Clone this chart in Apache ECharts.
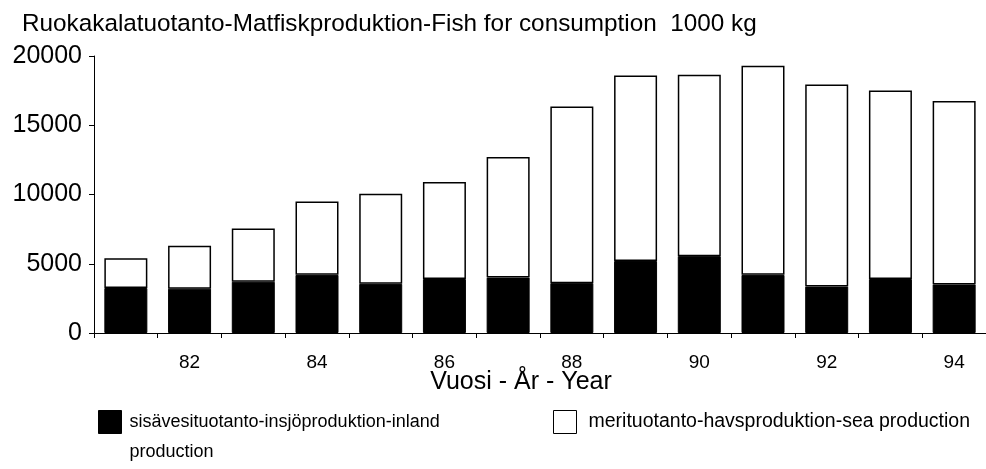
<!DOCTYPE html>
<html>
<head>
<meta charset="utf-8">
<script src="https://cdn.jsdelivr.net/npm/echarts@6/dist/echarts.min.js"></script>
<style>
  html, body { margin: 0; padding: 0; background: #fff; }
  #chart { width: 986px; height: 469px; }
</style>
</head>
<body>
<div id="chart"></div>
<script>
// Fish for consumption, 1000 kg, by year
const years = ['81', '82', '83', '84', '85', '86', '87', '88', '89', '90', '91', '92', '93', '94'];
const inland = [3250, 3200, 3700, 4200, 3550, 3900, 4000, 3600, 5200, 5550, 4200, 3350, 3900, 3500];
const sea = [2150, 3100, 3850, 5300, 6500, 7000, 8700, 12750, 13400, 13100, 15100, 14600, 13600, 13250];
const yTicks = { min: 0, max: 20000, interval: 5000 };

const titleText = 'Ruokakalatuotanto-Matfiskproduktion-Fish for consumption  1000 kg';
const inlandName = 'sisävesituotanto-insjöproduktion-inland production';
const seaName = 'merituotanto-havsproduktion-sea production';
const xName = 'Vuosi - År - Year';

const sans = '"Liberation Sans", Arial, Helvetica, sans-serif';

const chart = echarts.init(document.getElementById('chart'), null, { renderer: 'canvas' });

chart.setOption({
  backgroundColor: '#ffffff',
  animation: false,
  title: {
    text: titleText,
    left: 22,
    top: 12,
    padding: 0,
    textStyle: { fontFamily: sans, fontSize: 24.3, fontWeight: 'normal', color: '#000' }
  },
  legend: [
    {
      data: [inlandName],
      left: 98,
      top: 377,
      padding: 0,
      icon: 'rect',
      itemWidth: 23,
      itemHeight: 23,
      selectedMode: false,
      // a leading blank line keeps the first text line level with the swatch
      formatter: n => '\n' + n.replace('inland production', 'inland\nproduction'),
      itemStyle: { color: '#000', borderColor: '#000', borderWidth: 1 },
      textStyle: { fontFamily: sans, fontSize: 18, color: '#000', lineHeight: 30, padding: [0, 0, 0, 3] }
    },
    {
      data: [seaName],
      left: 553,
      top: 410,
      padding: 0,
      icon: 'rect',
      itemWidth: 23,
      itemHeight: 23,
      selectedMode: false,
      itemStyle: { color: '#fff', borderColor: '#000', borderWidth: 1 },
      textStyle: { fontFamily: sans, fontSize: 19.5, color: '#000', padding: [0, 0, 0, 7] }
    }
  ],
  grid: { left: 94, top: 56, width: 892, height: 277, containLabel: false },
  xAxis: {
    type: 'category',
    data: years,
    name: xName,
    nameLocation: 'middle',
    nameGap: 37,
    nameMoveOverlap: false,
    nameTextStyle: { fontFamily: sans, fontSize: 25, color: '#000', padding: [0, 38, 0, 0] },
    axisLine: { lineStyle: { color: '#000', width: 1 } },
    axisTick: { show: true, length: 5, interval: 0, lineStyle: { color: '#000' } },
    axisLabel: {
      interval: i => i % 2 === 1,
      margin: 20,
      fontFamily: sans,
      fontSize: 19,
      color: '#000'
    }
  },
  yAxis: {
    type: 'value',
    min: yTicks.min,
    max: yTicks.max,
    interval: yTicks.interval,
    axisLine: { show: true, lineStyle: { color: '#000', width: 1 } },
    axisTick: { show: true, length: 5, lineStyle: { color: '#000' } },
    splitLine: { show: false },
    axisLabel: { margin: 12, fontFamily: sans, fontSize: 25, color: '#000', formatter: v => String(v) }
  },
  series: [
    {
      name: inlandName,
      type: 'bar',
      stack: 'total',
      data: inland,
      barWidth: 43,
      itemStyle: { color: '#000', borderColor: '#000', borderWidth: 1 }
    },
    {
      name: seaName,
      type: 'bar',
      stack: 'total',
      data: sea,
      barWidth: 43,
      itemStyle: { color: '#fff', borderColor: '#000', borderWidth: 1.5 }
    }
  ]
});
</script>
</body>
</html>
